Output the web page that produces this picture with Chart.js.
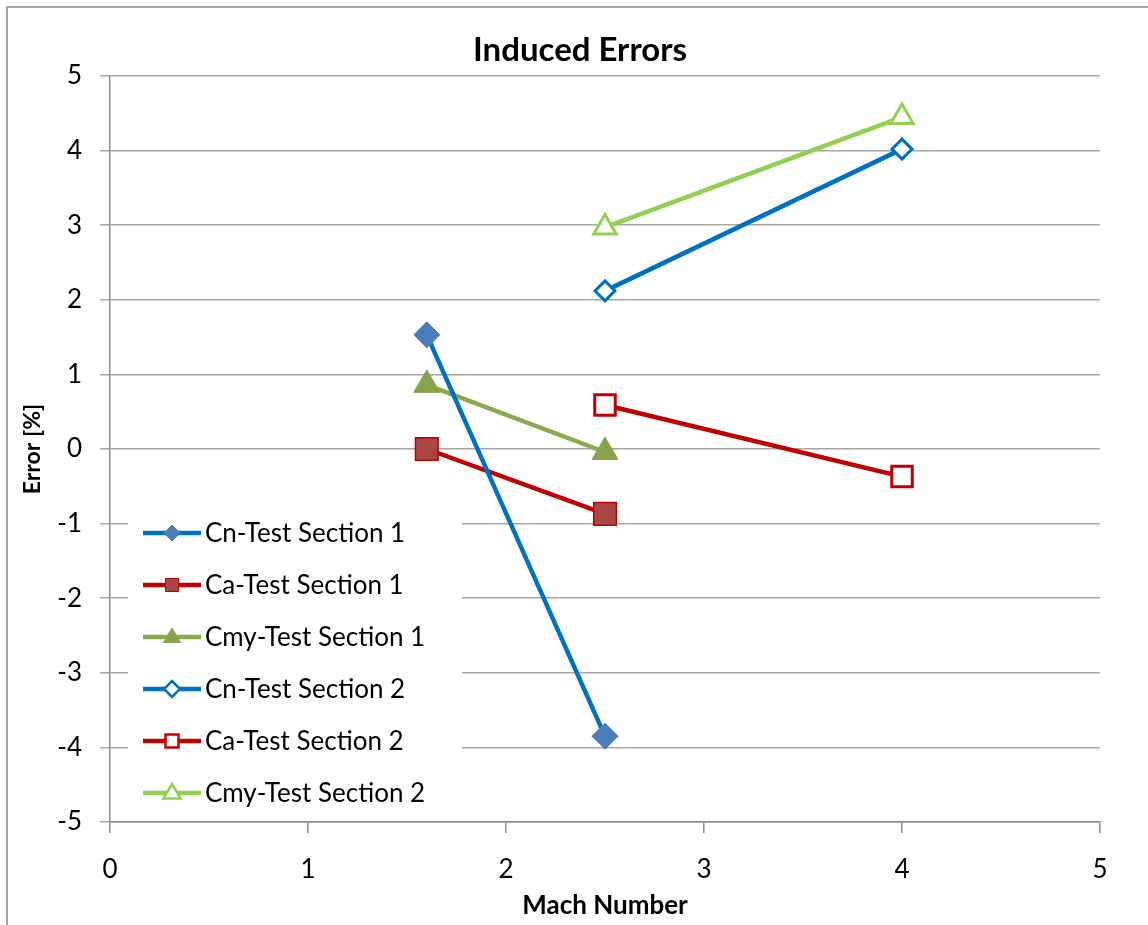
<!DOCTYPE html>
<html>
<head>
<meta charset="utf-8">
<title>Induced Errors</title>
<script src="https://cdn.jsdelivr.net/npm/chart.js@4/dist/chart.umd.min.js"></script>
<style>
    html, body { margin: 0; padding: 0; background: #fff; }
    #wrap { width: 1148px; height: 925px; }
</style>
</head>
<body>
<div id="wrap"><canvas id="chart" width="1148" height="925"></canvas></div>
<script>
// values
const machTS1 = [1.6, 2.5];
const machTS2 = [2.5, 4];
const cnTS1 = [1.53, -3.85];
const caTS1 = [0, -0.87];
const cmyTS1 = [0.86, -0.04];
const cnTS2 = [2.12, 4.02];
const caTS2 = [0.59, -0.37];
const cmyTS2 = [2.97, 4.45];
const xTicks = [0, 1, 2, 3, 4, 5];
const yTicks = [-5, -4, -3, -2, -1, 0, 1, 2, 3, 4, 5];
const chartTitle = 'Induced Errors';

const FONT = 'Lato, "Open Sans", sans-serif';

function points(xs, ys) {
    return xs.map((x, i) => ({ x: x, y: ys[i] }));
}

function series(label, xs, ys, line, fill, border, shape, radius, bw) {
    return {
        label: label,
        data: points(xs, ys),
        showLine: true,
        borderColor: line,
        borderWidth: 4.5,
        pointStyle: shape,
        pointRadius: radius,
        pointBackgroundColor: fill,
        pointBorderColor: border,
        pointBorderWidth: bw
    };
}

const datasets = [
    series('Cn-Test Section 1', machTS1, cnTS1, '#0070C0', '#4A7EBB', '#4A7EBB', 'rectRot', 13, 1),
    series('Ca-Test Section 1', machTS1, caTS1, '#C00000', '#AA4643', '#C00000', 'rect', 16, 1.5),
    series('Cmy-Test Section 1', machTS1, cmyTS1, '#8BAA4E', '#86A44A', '#86A44A', 'triangle', 15, 1),
    series('Cn-Test Section 2', machTS2, cnTS2, '#0070C0', '#FFFFFF', '#0070C0', 'rectRot', 10, 3),
    series('Ca-Test Section 2', machTS2, caTS2, '#C00000', '#FFFFFF', '#C00000', 'rect', 14.5, 3),
    series('Cmy-Test Section 2', machTS2, cmyTS2, '#92D050', '#FFFFFF', '#92D050', 'triangle', 13, 3)
];

// simple marker path for the legend samples
function marker(ctx, shape, x, y, r) {
    ctx.beginPath();
    if (shape === 'rect') {
        ctx.rect(x - r, y - r, 2 * r, 2 * r);
    } else if (shape === 'rectRot') {
        ctx.moveTo(x, y - r); ctx.lineTo(x + r, y); ctx.lineTo(x, y + r); ctx.lineTo(x - r, y);
        ctx.closePath();
    } else {
        ctx.moveTo(x, y - r); ctx.lineTo(x + r * 0.95, y + r * 0.6); ctx.lineTo(x - r * 0.95, y + r * 0.6);
        ctx.closePath();
    }
}

// outer border + title (title sits a bit off the canvas centre, like the original)
const frame = {
    id: 'frame',
    beforeDraw(chart) {
        const ctx = chart.ctx;
        ctx.save();
        ctx.fillStyle = '#fff';
        ctx.fillRect(0, 0, chart.width, chart.height);
        ctx.strokeStyle = '#A6A6A6';
        ctx.lineWidth = 2;
        ctx.beginPath();
        ctx.moveTo(7, chart.height);
        ctx.lineTo(7, 7);
        ctx.lineTo(chart.width, 7);
        ctx.stroke();
        ctx.fillStyle = '#000';
        ctx.font = 'bold 33px ' + FONT;
        ctx.textAlign = 'center';
        ctx.textBaseline = 'middle';
        ctx.fillText(chartTitle, 580, 50);
        ctx.restore();
    }
};

const insideLegend = {
    id: 'insideLegend',
    afterDatasetsDraw(chart) {
        const ctx = chart.ctx;
        const left = 128, top = 502, rowH = 52;
        const sizes = { rect: 6.5, rectRot: 8, triangle: 9 };
        ctx.save();
        ctx.fillStyle = '#fff';
        ctx.fillRect(left, top, 334, rowH * datasets.length + 4);
        ctx.font = '26px ' + FONT;
        ctx.textBaseline = 'middle';
        chart.data.datasets.forEach((ds, i) => {
            const y = top + 31 + i * rowH;
            ctx.strokeStyle = ds.borderColor;
            ctx.lineWidth = 4.5;
            ctx.beginPath();
            ctx.moveTo(143, y);
            ctx.lineTo(201, y);
            ctx.stroke();
            marker(ctx, ds.pointStyle, 172, y, sizes[ds.pointStyle]);
            ctx.fillStyle = ds.pointBackgroundColor;
            ctx.fill();
            ctx.lineWidth = ds.pointBorderWidth > 2 ? 2.5 : 1;
            ctx.strokeStyle = ds.pointBorderColor;
            ctx.stroke();
            ctx.fillStyle = '#000';
            ctx.fillText(ds.label, 205, y + 1);
        });
        ctx.restore();
    }
};

new Chart(document.getElementById('chart').getContext('2d'), {
    type: 'scatter',
    data: { datasets: datasets },
    options: {
        responsive: false,
        animation: false,
        layout: { padding: { top: 76, left: 19, right: 48, bottom: 4 } },
        plugins: {
            legend: { display: false },
            tooltip: { enabled: false },
            title: { display: false }
        },
        scales: {
            x: {
                type: 'linear',
                min: 0,
                max: 5,
                afterBuildTicks(scale) { scale.ticks = xTicks.map(v => ({ value: v })); },
                afterFit(scale) { scale.height = 99; },
                border: { display: true, color: '#8C8C8C', width: 1.5 },
                grid: { drawOnChartArea: false, drawTicks: true, tickLength: 11, color: '#8C8C8C', lineWidth: 1.5 },
                ticks: { color: '#000', font: { family: FONT, size: 26 }, padding: 21 },
                title: { display: true, text: 'Mach Number', color: '#000', font: { family: FONT, size: 26, weight: 'bold' }, padding: { top: 0, bottom: 0 } }
            },
            y: {
                type: 'linear',
                min: -5,
                max: 5,
                afterBuildTicks(scale) { scale.ticks = yTicks.map(v => ({ value: v })); },
                afterFit(scale) { scale.width = 91; },
                border: { display: true, color: '#8C8C8C', width: 1.5 },
                grid: { color: '#A6A6A6', lineWidth: 1.5, tickLength: 10 },
                ticks: { color: '#000', font: { family: FONT, size: 26 }, padding: 18 },
                title: { display: true, text: 'Error [%]', color: '#000', font: { family: FONT, size: 23, weight: 'bold' }, padding: { top: 0, bottom: 0 } }
            }
        }
    },
    plugins: [frame, insideLegend]
});
</script>
</body>
</html>
